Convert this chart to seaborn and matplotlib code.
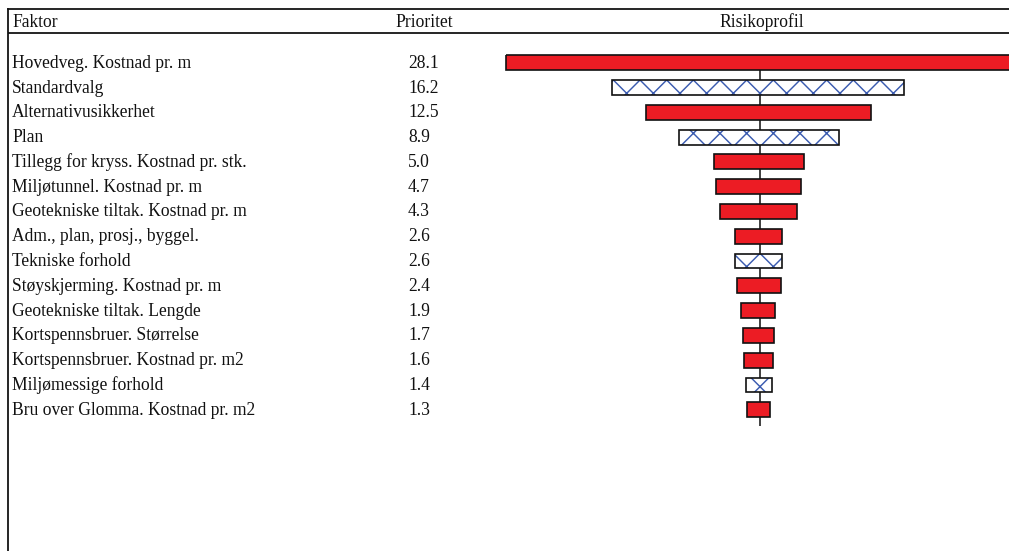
import numpy as np
import pandas as pd
import matplotlib
matplotlib.use("Agg")
import matplotlib.pyplot as plt
from matplotlib.transforms import blended_transform_factory
import seaborn as sns

# Risk factors, sorted by priority (spread between low and high outcome)
factors = [
    "Hovedveg. Kostnad pr. m",
    "Standardvalg",
    "Alternativusikkerhet",
    "Plan",
    "Tillegg for kryss. Kostnad pr. stk.",
    "Miljøtunnel. Kostnad pr. m",
    "Geotekniske tiltak. Kostnad pr. m",
    "Adm., plan, prosj., byggel.",
    "Tekniske forhold",
    "Støyskjerming. Kostnad pr. m",
    "Geotekniske tiltak. Lengde",
    "Kortspennsbruer. Størrelse",
    "Kortspennsbruer. Kostnad pr. m2",
    "Miljømessige forhold",
    "Bru over Glomma. Kostnad pr. m2",
]
priority = [28.1, 16.2, 12.5, 8.9, 5.0, 4.7, 4.3, 2.6, 2.6, 2.4, 1.9, 1.7, 1.6, 1.4, 1.3]
# Low end of each factor's range, relative to the expected value
low = [-14.1, -8.2, -6.3, -4.5, -2.55, -2.4, -2.2, -1.35, -1.35, -1.23, -1.05, -0.9, -0.87, -0.73, -0.72]
# Uncertain (non-cost) factors are drawn cross-hatched
hatched = [False, True, False, True, False, False, False, False, True, False, False, False, False, True, False]

df = pd.DataFrame({"Faktor": factors, "Prioritet": priority, "low": low})

W, H, DPI = 1009, 551, 80
RED = "#EC1C24"
BLUE = "#3A5BB0"
INK = "#111111"

sns.set_theme(style="white")
plt.rcParams["font.family"] = ["Liberation Serif", "DejaVu Serif"]
plt.rcParams["hatch.linewidth"] = 1.3

fig = plt.figure(figsize=(W / DPI, H / DPI), dpi=DPI)

def fx(px):
    return px / W

def fy(py):
    return 1 - py / H

# Table frame: left and top rules plus the header rule
frame = fig.add_axes([fx(8), 0, 1 - fx(8), fy(9)])
frame.set_xlim(0, 1)
frame.set_ylim(0, 1)
frame.set_xticks([])
frame.set_yticks([])
frame.patch.set_alpha(0)
for side in ("right", "bottom"):
    frame.spines[side].set_visible(False)
for side in ("left", "top"):
    frame.spines[side].set_linewidth(1.6)
    frame.spines[side].set_color(INK)
frame.axhline(1 - (33 - 9) / (H - 9), color=INK, lw=1.6)

# Tornado axes: 18 px per unit, zero at x = 759.5 px
x0_px, x1_px, zero_px, ppu = 460, W, 759.5, 18.0
row0_px, pitch = 62.8, 24.78
ax = fig.add_axes([fx(x0_px), 0, 1 - fx(x0_px), fy(40)])
ax.set_zorder(2)
ax.patch.set_alpha(0)

n = len(factors)
ax.vlines(0, 0, n - 1 + 0.66, color=INK, lw=1.4, zorder=1)

# Filled bars: length = priority, then shifted so each starts at its low end
sns.barplot(data=df, x="Prioritet", y="Faktor", orient="h", saturation=1,
            errorbar=None, width=0.6, color=RED, linewidth=0, ax=ax, zorder=2)
fill_bars = list(ax.patches)
for patch, lo, h in zip(fill_bars, low, hatched):
    patch.set_x(lo)
    if h:
        patch.set_facecolor("white")
        patch.set_edgecolor(BLUE)
        patch.set_hatch("x")
        patch.set_linewidth(0)

# Black outlines on top of every bar
sns.barplot(data=df, x="Prioritet", y="Faktor", orient="h", saturation=1,
            errorbar=None, width=0.6, fill=False, color=INK,
            linewidth=1.5, ax=ax, zorder=3)
outline_bars = [p for p in ax.patches if p not in fill_bars]
for patch, lo in zip(outline_bars, low):
    patch.set_x(lo)
    patch.set_edgecolor(INK)

ax.set_xlim((x0_px - zero_px) / ppu, (x1_px - zero_px) / ppu)
ax.set_ylim((H - row0_px) / pitch, (40 - row0_px) / pitch)
ax.set_xticks([])
ax.set_yticks([])
ax.set_xlabel("")
ax.set_ylabel("")
sns.despine(ax=ax, left=True, bottom=True)

# Row texts: factor name and its priority
trans = blended_transform_factory(fig.transFigure, ax.transData)
fs = 17.5 * 72 / DPI
for i, (name, p) in enumerate(zip(factors, priority)):
    fig.text(fx(12), i + 0.2, name, transform=trans, ha="left", va="baseline",
             fontsize=fs, color=INK)
    fig.text(fx(408), i + 0.2, f"{p:.1f}", transform=trans, ha="left", va="baseline",
             fontsize=fs, color=INK)

# Column headers
fig.text(fx(12), fy(27), "Faktor", ha="left", va="baseline", fontsize=fs, color=INK)
fig.text(fx(424), fy(27), "Prioritet", ha="center", va="baseline", fontsize=fs, color=INK)
fig.text(fx(762), fy(27), "Risikoprofil", ha="center", va="baseline", fontsize=fs, color=INK)

fig.savefig("out.png", dpi=DPI)
